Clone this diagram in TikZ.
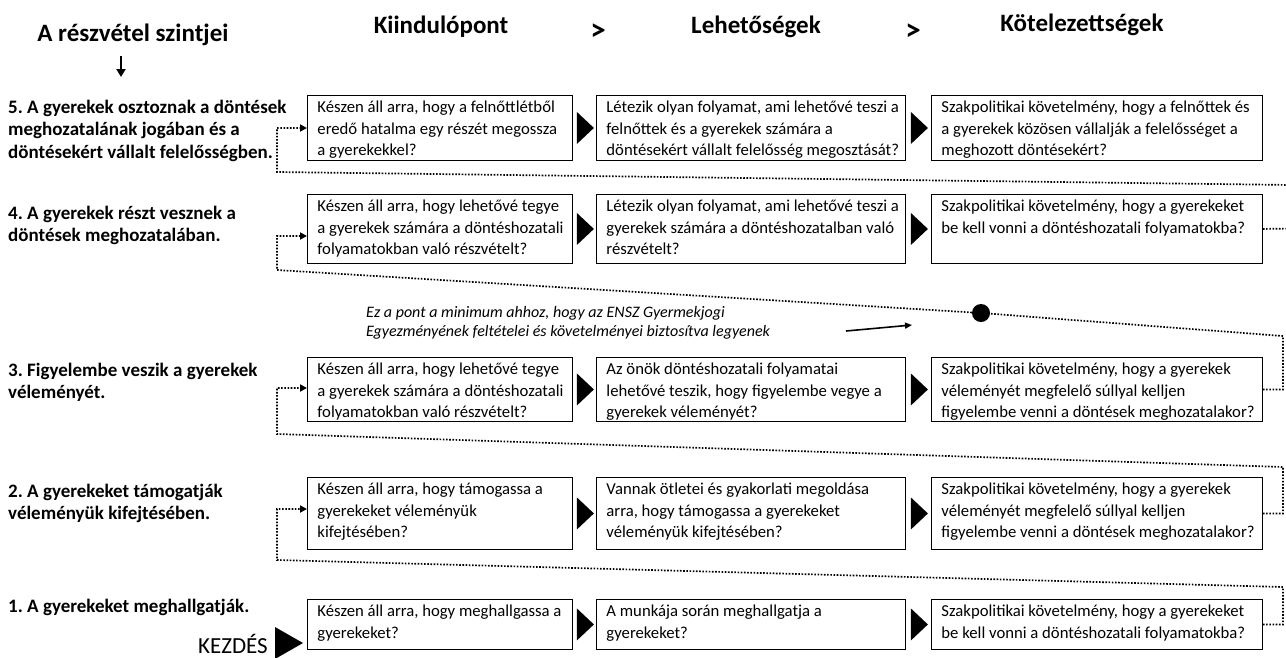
\documentclass[tikz,border=0pt]{standalone}
\usepackage{fontspec}
\setmainfont{Carlito}
\usetikzlibrary{arrows.meta,calc}
\frenchspacing
\newcommand{\qtxt}[3]{\parbox[c][#1][t]{#2}{\vspace*{2pt}\begin{tabular}[t]{@{}l@{}}#3\end{tabular}}}
\begin{document}
\begin{tikzpicture}[x=1pt,y=-1pt,
  qbox/.style={draw, line width=0.9pt, anchor=north west, inner xsep=10pt, inner ysep=0pt, font=\fontsize{16.7}{21.5}\selectfont},
  lvl/.style={anchor=north west, inner sep=0pt, align=left, font=\fontsize{19}{22.3}\selectfont\bfseries},
  hdr/.style={font=\fontsize{25}{29}\selectfont\bfseries, inner sep=0pt},
  gt/.style={font=\fontsize{31}{35}\selectfont\bfseries, inner sep=0pt},
  dotln/.style={line width=1.7pt, dash pattern=on 1.6pt off 1.6pt},
  entry/.style={dotln, -{Triangle[length=7pt,width=7pt]}},
  tri/.style={fill=black},
]
\useasboundingbox (0,0) rectangle (1286,657);
\clip (0,0) rectangle (1286,657);

% headers
\node[hdr] (h0) at (133,35) {A részvétel szintjei};
\node[hdr] (h1) at (441,27) {Kiindulópont};
\node[gt] (g1) at (598,32) {>};
\node[hdr] (h2) at (756,27) {Lehetőségek};
\node[gt] (g2) at (913,32) {>};
\node[hdr] (h3) at (1082,25) {Kötelezettségek};
\coordinate (da) at (121,56);
\coordinate (db) at (121,77);
\draw[line width=2pt, -{Triangle[length=8pt,width=9pt]}] (da) -- (db);

% level labels
\node[lvl] (L5) at (8,100) {5. A gyerekek osztoznak a döntések\\meghozatalának jogában és a\\döntésekért vállalt felelősségben.};
\node[lvl] (L4) at (8,206) {4. A gyerekek részt vesznek a\\döntések meghozatalában.};
\node[lvl] (L3) at (8,363) {3. Figyelembe veszik a gyerekek\\véleményét.};
\node[lvl] (L2) at (8,484) {2. A gyerekeket támogatják\\véleményük kifejtésében.};
\node[lvl] (L1) at (8,599) {1. A gyerekeket meghallgatják.};

% row 5
\node[qbox] (b51) at (307,95) {\qtxt{65pt}{245pt}{Készen áll arra, hogy a felnőttlétből\\eredő hatalma egy részét megossza\\a gyerekekkel?}};
\node[qbox] (b52) at (596,95) {\qtxt{65pt}{289pt}{Létezik olyan folyamat, ami lehetővé teszi a\\felnőttek és a gyerekek számára a\\döntésekért vállalt felelősség megosztását?}};
\node[qbox] (b53) at (931,95) {\qtxt{65pt}{311pt}{Szakpolitikai követelmény, hogy a felnőttek és\\a gyerekek közösen vállalják a felelősséget a\\meghozott döntésekért?}};
% row 4
\node[qbox] (b41) at (307,194) {\qtxt{69pt}{245pt}{Készen áll arra, hogy lehetővé tegye\\a gyerekek számára a döntéshozatali\\folyamatokban való részvételt?}};
\node[qbox] (b42) at (596,194) {\qtxt{69pt}{289pt}{Létezik olyan folyamat, ami lehetővé teszi a\\gyerekek számára a döntéshozatalban való\\részvételt?}};
\node[qbox] (b43) at (931,194) {\qtxt{69pt}{311pt}{Szakpolitikai követelmény, hogy a gyerekeket\\be kell vonni a döntéshozatali folyamatokba?}};
% row 3
\node[qbox] (b31) at (307,357) {\qtxt{64pt}{245pt}{Készen áll arra, hogy lehetővé tegye\\a gyerekek számára a döntéshozatali\\folyamatokban való részvételt?}};
\node[qbox] (b32) at (596,357) {\qtxt{64pt}{289pt}{Az önök döntéshozatali folyamatai\\lehetővé teszik, hogy figyelembe vegye a\\gyerekek véleményét?}};
\node[qbox] (b33) at (931,357) {\qtxt{64pt}{311pt}{Szakpolitikai követelmény, hogy a gyerekek\\véleményét megfelelő súllyal kelljen\\figyelembe venni a döntések meghozatalakor?}};
% row 2
\node[qbox] (b21) at (307,477) {\qtxt{72pt}{245pt}{Készen áll arra, hogy támogassa a\\gyerekeket véleményük\\kifejtésében?}};
\node[qbox] (b22) at (596,477) {\qtxt{72pt}{289pt}{Vannak ötletei és gyakorlati megoldása\\arra, hogy támogassa a gyerekeket\\véleményük kifejtésében?}};
\node[qbox] (b23) at (931,477) {\qtxt{72pt}{311pt}{Szakpolitikai követelmény, hogy a gyerekek\\véleményét megfelelő súllyal kelljen\\figyelembe venni a döntések meghozatalakor?}};
% row 1
\node[qbox] (b11) at (307,599) {\qtxt{50pt}{245pt}{Készen áll arra, hogy meghallgassa a\\gyerekeket?}};
\node[qbox] (b12) at (596,599) {\qtxt{50pt}{289pt}{A munkája során meghallgatja a\\gyerekeket?}};
\node[qbox] (b13) at (931,599) {\qtxt{50pt}{311pt}{Szakpolitikai követelmény, hogy a gyerekeket\\be kell vonni a döntéshozatali folyamatokba?}};

% black triangles between boxes
\foreach \r in {5,4,3,2,1}{
  \fill[tri] ($(b\r1.east)+(4,-16)$) -- ++(17,16) -- ++(-17,16) -- cycle;
  \fill[tri] ($(b\r2.east)+(5,-16)$) -- ++(17,16) -- ++(-17,16) -- cycle;
}

% start
\node[font=\fontsize{23}{27}\selectfont, anchor=base east, inner sep=0pt] (kez) at (268,653) {KEZDÉS};
\fill[tri] (275,627) -- (303,643) -- (275,659) -- cycle;

% dotted connectors
\coordinate (e5) at (277,128);
\coordinate (l5) at (277,172);
\coordinate (r5) at (1292,185);
\coordinate (x4) at (1292,228.5);
\coordinate (e4) at (277,236);
\coordinate (l4) at (277,270);
\coordinate (t3) at (1283,336);
\coordinate (e3) at (277,388);
\coordinate (l3) at (277,434);
\coordinate (t2) at (1283,467);
\coordinate (e2) at (277,509);
\coordinate (l2) at (277,560);
\coordinate (t1) at (1283,587);
\node[circle, fill=black, inner sep=0pt, minimum size=18pt] (dot) at (981,313) {};

\draw[entry] (r5) -- (l5) -- (e5) -- (e5 -| b51.west);
\draw[dotln] (b43.east) -- (x4);
\draw[entry] (b33.east) -- (b33.east -| t3) -- (t3) -- (dot) -- (l4) -- (e4) -- (e4 -| b41.west);
\draw[entry] (b23.east) -- (b23.east -| t2) -- (t2) -- (l3) -- (e3) -- (e3 -| b31.west);
\draw[entry] (b13.east) -- (b13.east -| t1) -- (t1) -- (l2) -- (e2) -- (e2 -| b21.west);

% note
\node[anchor=north west, inner sep=0pt, align=left, font=\fontsize{16}{19}\selectfont\itshape] (note) at (366,306) {Ez a pont a minimum ahhoz, hogy az ENSZ Gyermekjogi\\Egyezményének feltételei és követelményei biztosítva legyenek};
\coordinate (na) at (846,331);
\coordinate (nb) at (912,325);
\draw[line width=1.6pt, -{Triangle[length=7pt,width=6pt]}] (na) -- (nb);
\end{tikzpicture}
\end{document}
